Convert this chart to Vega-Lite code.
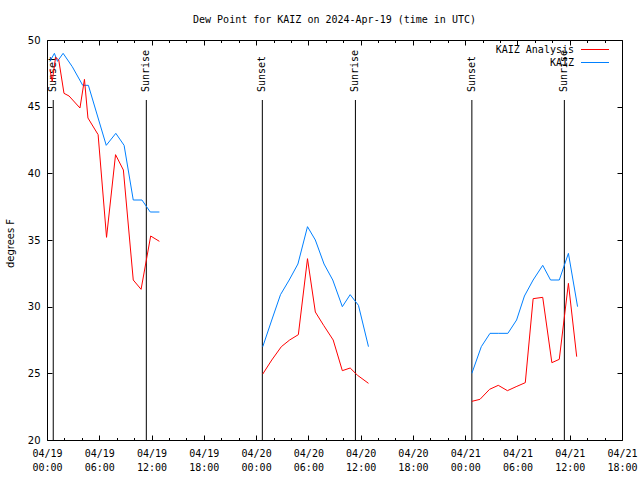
{
  "$schema": "https://vega.github.io/schema/vega-lite/v6.json",
  "width": 575,
  "height": 400,
  "autosize": "none",
  "padding": {"left": 47, "top": 40, "right": 18, "bottom": 40},
  "background": "white",
  "title": {"text": "Dew Point for KAIZ on 2024-Apr-19 (time in UTC)", "font": "DejaVu Sans Mono", "fontSize": 10, "fontWeight": "normal", "color": "black", "anchor": "middle", "frame": "group", "offset": 10},
  "config": {
    "view": {"stroke": "black", "strokeWidth": 1},
    "axis": {"domain": false, "grid": false, "tickColor": "black", "tickWidth": 1, "labelColor": "black", "titleColor": "black"}
  },
  "datasets": {
    "obs": [
      {"t": "2024-04-19T00:20:00Z", "s": "KAIZ", "g": 1, "v": 48.4},
      {"t": "2024-04-19T00:51:00Z", "s": "KAIZ", "g": 1, "v": 49.0},
      {"t": "2024-04-19T01:12:00Z", "s": "KAIZ", "g": 1, "v": 48.4},
      {"t": "2024-04-19T01:51:00Z", "s": "KAIZ", "g": 1, "v": 49.0},
      {"t": "2024-04-19T02:54:00Z", "s": "KAIZ", "g": 1, "v": 48.0},
      {"t": "2024-04-19T04:06:00Z", "s": "KAIZ", "g": 1, "v": 46.6},
      {"t": "2024-04-19T04:45:00Z", "s": "KAIZ", "g": 1, "v": 46.6},
      {"t": "2024-04-19T06:48:00Z", "s": "KAIZ", "g": 1, "v": 42.1},
      {"t": "2024-04-19T07:54:00Z", "s": "KAIZ", "g": 1, "v": 43.0},
      {"t": "2024-04-19T08:51:00Z", "s": "KAIZ", "g": 1, "v": 42.1},
      {"t": "2024-04-19T09:54:00Z", "s": "KAIZ", "g": 1, "v": 38.0},
      {"t": "2024-04-19T10:54:00Z", "s": "KAIZ", "g": 1, "v": 38.0},
      {"t": "2024-04-19T11:51:00Z", "s": "KAIZ", "g": 1, "v": 37.1},
      {"t": "2024-04-19T12:54:00Z", "s": "KAIZ", "g": 1, "v": 37.1},
      {"t": "2024-04-19T00:20:00Z", "s": "KAIZ Analysis", "g": 1, "v": 47.8},
      {"t": "2024-04-19T00:36:00Z", "s": "KAIZ Analysis", "g": 1, "v": 46.9},
      {"t": "2024-04-19T00:59:00Z", "s": "KAIZ Analysis", "g": 1, "v": 48.7},
      {"t": "2024-04-19T01:21:00Z", "s": "KAIZ Analysis", "g": 1, "v": 48.5},
      {"t": "2024-04-19T01:57:00Z", "s": "KAIZ Analysis", "g": 1, "v": 46.0},
      {"t": "2024-04-19T02:32:00Z", "s": "KAIZ Analysis", "g": 1, "v": 45.8},
      {"t": "2024-04-19T03:47:00Z", "s": "KAIZ Analysis", "g": 1, "v": 44.9},
      {"t": "2024-04-19T04:18:00Z", "s": "KAIZ Analysis", "g": 1, "v": 47.05},
      {"t": "2024-04-19T04:42:00Z", "s": "KAIZ Analysis", "g": 1, "v": 44.15},
      {"t": "2024-04-19T05:52:00Z", "s": "KAIZ Analysis", "g": 1, "v": 42.9},
      {"t": "2024-04-19T06:50:00Z", "s": "KAIZ Analysis", "g": 1, "v": 35.2},
      {"t": "2024-04-19T07:52:00Z", "s": "KAIZ Analysis", "g": 1, "v": 41.4},
      {"t": "2024-04-19T08:46:00Z", "s": "KAIZ Analysis", "g": 1, "v": 40.25},
      {"t": "2024-04-19T09:54:00Z", "s": "KAIZ Analysis", "g": 1, "v": 32.0},
      {"t": "2024-04-19T10:48:00Z", "s": "KAIZ Analysis", "g": 1, "v": 31.3},
      {"t": "2024-04-19T11:54:00Z", "s": "KAIZ Analysis", "g": 1, "v": 35.3},
      {"t": "2024-04-19T12:54:00Z", "s": "KAIZ Analysis", "g": 1, "v": 34.9},
      {"t": "2024-04-20T00:46:00Z", "s": "KAIZ", "g": 2, "v": 27.0},
      {"t": "2024-04-20T01:48:00Z", "s": "KAIZ", "g": 2, "v": 29.0},
      {"t": "2024-04-20T02:48:00Z", "s": "KAIZ", "g": 2, "v": 30.9},
      {"t": "2024-04-20T03:48:00Z", "s": "KAIZ", "g": 2, "v": 32.0},
      {"t": "2024-04-20T04:48:00Z", "s": "KAIZ", "g": 2, "v": 33.2},
      {"t": "2024-04-20T05:54:00Z", "s": "KAIZ", "g": 2, "v": 36.0},
      {"t": "2024-04-20T06:48:00Z", "s": "KAIZ", "g": 2, "v": 35.0},
      {"t": "2024-04-20T07:48:00Z", "s": "KAIZ", "g": 2, "v": 33.2},
      {"t": "2024-04-20T08:48:00Z", "s": "KAIZ", "g": 2, "v": 32.0},
      {"t": "2024-04-20T09:54:00Z", "s": "KAIZ", "g": 2, "v": 30.0},
      {"t": "2024-04-20T10:48:00Z", "s": "KAIZ", "g": 2, "v": 30.9},
      {"t": "2024-04-20T11:45:00Z", "s": "KAIZ", "g": 2, "v": 30.1},
      {"t": "2024-04-20T12:54:00Z", "s": "KAIZ", "g": 2, "v": 27.0},
      {"t": "2024-04-20T00:46:00Z", "s": "KAIZ Analysis", "g": 2, "v": 24.95},
      {"t": "2024-04-20T01:48:00Z", "s": "KAIZ Analysis", "g": 2, "v": 26.0},
      {"t": "2024-04-20T02:54:00Z", "s": "KAIZ Analysis", "g": 2, "v": 27.0},
      {"t": "2024-04-20T03:51:00Z", "s": "KAIZ Analysis", "g": 2, "v": 27.5},
      {"t": "2024-04-20T04:51:00Z", "s": "KAIZ Analysis", "g": 2, "v": 27.9},
      {"t": "2024-04-20T05:54:00Z", "s": "KAIZ Analysis", "g": 2, "v": 33.6},
      {"t": "2024-04-20T06:48:00Z", "s": "KAIZ Analysis", "g": 2, "v": 29.6},
      {"t": "2024-04-20T07:45:00Z", "s": "KAIZ Analysis", "g": 2, "v": 28.6},
      {"t": "2024-04-20T08:51:00Z", "s": "KAIZ Analysis", "g": 2, "v": 27.5},
      {"t": "2024-04-20T09:54:00Z", "s": "KAIZ Analysis", "g": 2, "v": 25.2},
      {"t": "2024-04-20T10:48:00Z", "s": "KAIZ Analysis", "g": 2, "v": 25.4},
      {"t": "2024-04-20T11:39:00Z", "s": "KAIZ Analysis", "g": 2, "v": 24.85},
      {"t": "2024-04-20T12:54:00Z", "s": "KAIZ Analysis", "g": 2, "v": 24.25},
      {"t": "2024-04-21T00:46:00Z", "s": "KAIZ", "g": 3, "v": 25.0},
      {"t": "2024-04-21T01:51:00Z", "s": "KAIZ", "g": 3, "v": 27.0},
      {"t": "2024-04-21T02:51:00Z", "s": "KAIZ", "g": 3, "v": 28.0},
      {"t": "2024-04-21T03:51:00Z", "s": "KAIZ", "g": 3, "v": 28.0},
      {"t": "2024-04-21T04:54:00Z", "s": "KAIZ", "g": 3, "v": 28.0},
      {"t": "2024-04-21T05:54:00Z", "s": "KAIZ", "g": 3, "v": 29.0},
      {"t": "2024-04-21T06:48:00Z", "s": "KAIZ", "g": 3, "v": 30.8},
      {"t": "2024-04-21T07:48:00Z", "s": "KAIZ", "g": 3, "v": 32.0},
      {"t": "2024-04-21T08:54:00Z", "s": "KAIZ", "g": 3, "v": 33.1},
      {"t": "2024-04-21T09:48:00Z", "s": "KAIZ", "g": 3, "v": 32.0},
      {"t": "2024-04-21T10:48:00Z", "s": "KAIZ", "g": 3, "v": 32.0},
      {"t": "2024-04-21T11:51:00Z", "s": "KAIZ", "g": 3, "v": 34.0},
      {"t": "2024-04-21T12:54:00Z", "s": "KAIZ", "g": 3, "v": 30.0},
      {"t": "2024-04-21T00:46:00Z", "s": "KAIZ Analysis", "g": 3, "v": 22.9},
      {"t": "2024-04-21T01:42:00Z", "s": "KAIZ Analysis", "g": 3, "v": 23.05},
      {"t": "2024-04-21T02:48:00Z", "s": "KAIZ Analysis", "g": 3, "v": 23.8},
      {"t": "2024-04-21T03:48:00Z", "s": "KAIZ Analysis", "g": 3, "v": 24.1},
      {"t": "2024-04-21T04:51:00Z", "s": "KAIZ Analysis", "g": 3, "v": 23.7},
      {"t": "2024-04-21T05:51:00Z", "s": "KAIZ Analysis", "g": 3, "v": 24.0},
      {"t": "2024-04-21T06:54:00Z", "s": "KAIZ Analysis", "g": 3, "v": 24.3},
      {"t": "2024-04-21T07:48:00Z", "s": "KAIZ Analysis", "g": 3, "v": 30.6},
      {"t": "2024-04-21T08:54:00Z", "s": "KAIZ Analysis", "g": 3, "v": 30.7},
      {"t": "2024-04-21T09:57:00Z", "s": "KAIZ Analysis", "g": 3, "v": 25.8},
      {"t": "2024-04-21T10:48:00Z", "s": "KAIZ Analysis", "g": 3, "v": 26.05},
      {"t": "2024-04-21T11:51:00Z", "s": "KAIZ Analysis", "g": 3, "v": 31.75},
      {"t": "2024-04-21T12:48:00Z", "s": "KAIZ Analysis", "g": 3, "v": 26.25}
    ],
    "sun": [
      {"t": "2024-04-19T00:43:00Z", "label": "Sunset"},
      {"t": "2024-04-19T11:24:00Z", "label": "Sunrise"},
      {"t": "2024-04-20T00:43:00Z", "label": "Sunset"},
      {"t": "2024-04-20T11:24:00Z", "label": "Sunrise"},
      {"t": "2024-04-21T00:46:00Z", "label": "Sunset"},
      {"t": "2024-04-21T11:23:00Z", "label": "Sunrise"}
    ]
  },
  "resolve": {"axis": {"x": "independent", "y": "independent"}},
  "layer": [
    {
      "data": {"name": "sun"},
      "mark": {"type": "rule", "color": "black", "strokeWidth": 1},
      "encoding": {
        "x": {"field": "t", "type": "temporal",
          "scale": {"type": "utc", "domain": [1713484800000, 1713722400000]},
          "axis": {"orient": "top", "title": null, "labels": false,
            "values": [1713484800000,1713492000000,1713499200000,1713506400000,1713513600000,1713520800000,1713528000000,1713535200000,1713542400000,1713549600000,1713556800000,1713564000000,1713571200000,1713578400000,1713585600000,1713592800000,1713600000000,1713607200000,1713614400000,1713621600000,1713628800000,1713636000000,1713643200000,1713650400000,1713657600000,1713664800000,1713672000000,1713679200000,1713686400000,1713693600000,1713700800000,1713708000000,1713715200000,1713722400000],
            "tickSize": {"condition": {"test": "utchours(datum.value) % 6 == 0", "value": -5}, "value": -2.5}}},
        "y": {"datum": 45.5, "type": "quantitative",
          "scale": {"domain": [20, 50], "nice": false, "zero": false},
          "axis": {"orient": "right", "title": null, "labels": false, "values": [20,25,30,35,40,45,50], "tickSize": -5}},
        "y2": {"datum": 20}
      }
    },
    {
      "data": {"name": "sun"},
      "mark": {"type": "text", "angle": 270, "align": "left", "baseline": "middle", "font": "DejaVu Sans Mono", "fontSize": 10, "color": "black"},
      "encoding": {
        "x": {"field": "t", "type": "temporal", "scale": {"type": "utc", "domain": [1713484800000, 1713722400000]}, "axis": null},
        "y": {"datum": 46.1, "type": "quantitative", "scale": {"domain": [20, 50], "nice": false, "zero": false}, "axis": null},
        "text": {"field": "label"}
      }
    },
    {
      "data": {"name": "obs"},
      "mark": {"type": "line", "strokeWidth": 1, "interpolate": "linear"},
      "encoding": {
        "x": {"field": "t", "type": "temporal",
          "scale": {"type": "utc", "domain": [1713484800000, 1713722400000]},
          "axis": {"orient": "bottom", "title": null, "labelOverlap": false, "labelFlush": false,
            "labelFont": "DejaVu Sans Mono", "labelFontSize": 10, "labelLineHeight": 14, "labelPadding": 13,
            "values": [1713484800000,1713492000000,1713499200000,1713506400000,1713513600000,1713520800000,1713528000000,1713535200000,1713542400000,1713549600000,1713556800000,1713564000000,1713571200000,1713578400000,1713585600000,1713592800000,1713600000000,1713607200000,1713614400000,1713621600000,1713628800000,1713636000000,1713643200000,1713650400000,1713657600000,1713664800000,1713672000000,1713679200000,1713686400000,1713693600000,1713700800000,1713708000000,1713715200000,1713722400000],
            "labelExpr": "utchours(datum.value) % 6 == 0 ? [utcFormat(datum.value, '%m/%d'), utcFormat(datum.value, '%H:%M')] : ''",
            "tickSize": {"condition": {"test": "utchours(datum.value) % 6 == 0", "value": -5}, "value": -2.5}}},
        "y": {"field": "v", "type": "quantitative",
          "scale": {"domain": [20, 50], "nice": false, "zero": false},
          "axis": {"orient": "left", "title": "degrees F", "values": [20,25,30,35,40,45,50], "tickSize": -5,
            "labelFont": "DejaVu Sans", "labelFontSize": 10, "labelPadding": 12,
            "titleFont": "DejaVu Sans", "titleFontSize": 10, "titleFontWeight": "normal",
            "titleX": -37, "titleY": 203, "titleAlign": "center", "titleBaseline": "middle", "titleAngle": 270}},
        "color": {"field": "s", "type": "nominal",
          "scale": {"domain": ["KAIZ Analysis", "KAIZ"], "range": ["#ff0000", "#0080ff"]},
          "legend": {"orient": "none", "legendX": 540.5, "legendY": 2, "title": null, "padding": 0,
            "symbolType": "M-2,0H2", "symbolSize": 196, "symbolStrokeWidth": 1,
            "labelAlign": "right", "labelOffset": -28.5, "labelFont": "DejaVu Sans Mono", "labelFontSize": 10,
            "labelColor": "black", "rowPadding": 0}},
        "detail": {"field": "g"}
      }
    }
  ]
}
